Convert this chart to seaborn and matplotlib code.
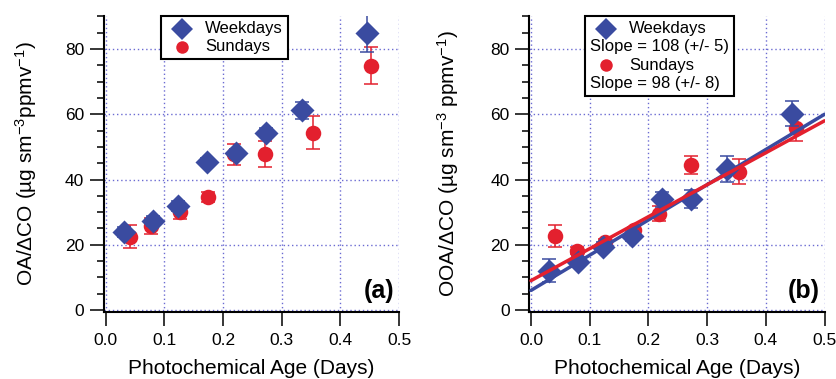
import numpy as np
import pandas as pd
import matplotlib
matplotlib.use("Agg")
import matplotlib.pyplot as plt
from matplotlib.lines import Line2D
from matplotlib.offsetbox import AnchoredOffsetbox, DrawingArea, HPacker, VPacker, TextArea
from matplotlib.ticker import MultipleLocator
import seaborn as sns

# ---- data ----
# panel (a) OA / dCO
age_wd_a = [0.031, 0.080, 0.123, 0.172, 0.223, 0.273, 0.334, 0.446]
oa_wd = [23.8, 27.2, 31.9, 45.5, 48.0, 54.4, 61.3, 84.9]
oa_wd_err = [1.5, 1.5, 1.5, 1.0, 1.5, 1.5, 2.6, 5.8]
age_su_a = [0.042, 0.078, 0.126, 0.174, 0.219, 0.272, 0.354, 0.453]
oa_su = [22.5, 25.7, 29.9, 34.7, 47.8, 47.8, 54.4, 74.9]
oa_su_err = [3.6, 2.5, 2.0, 1.5, 3.2, 3.9, 5.1, 5.6]

# panel (b) OOA / dCO
age_wd_b = [0.031, 0.080, 0.123, 0.172, 0.224, 0.273, 0.334, 0.445]
ooa_wd = [12.1, 14.6, 19.2, 22.6, 33.9, 34.1, 43.2, 60.2]
ooa_wd_err = [3.5, 1.5, 1.5, 1.5, 2.3, 2.7, 4.0, 3.9]
age_su_b = [0.041, 0.078, 0.126, 0.175, 0.218, 0.272, 0.354, 0.451]
ooa_su = [22.8, 18.2, 20.7, 24.5, 29.5, 44.5, 42.4, 55.8]
ooa_su_err = [3.4, 1.0, 1.0, 1.0, 2.3, 2.7, 3.8, 3.9]

# linear fits in (b)
fit_x = np.array([0.0, 0.5])
slope_wd, icpt_wd = 108, 6.0
slope_su, icpt_su = 98, 9.0

blue = "#3a4ba0"
red = "#e3202e"
gridc = "#6b6bd2"

sns.set_style("ticks")
plt.rcParams["font.family"] = ["Liberation Sans", "DejaVu Sans"]
plt.rcParams["mathtext.fontset"] = "custom"
plt.rcParams["mathtext.rm"] = "Liberation Sans"
plt.rcParams["mathtext.it"] = "Liberation Sans:italic"
plt.rcParams["mathtext.bf"] = "Liberation Sans:bold"
for k in ["text.color", "axes.labelcolor", "xtick.color", "ytick.color", "axes.edgecolor"]:
    plt.rcParams[k] = "black"


def legend_box(ax, rows, xfrac):
    items = []
    for marker, color, ms, label in rows:
        txt = TextArea(label, textprops=dict(fontsize=12, color="black"))
        if marker is None:
            items.append(txt)
        else:
            da = DrawingArea(23, 10, 0, 0)
            da.add_artist(Line2D([11.5], [5], marker=marker, ms=ms, color=color,
                                 ls="none", mew=0))
            items.append(HPacker(children=[da, txt], align="center", pad=0, sep=5.5))
    box = VPacker(children=items, align="left", pad=0, sep=2.2)
    anch = AnchoredOffsetbox(loc="upper center", child=box, pad=0.3, borderpad=0,
                             frameon=True, prop=dict(size=12),
                             bbox_to_anchor=(xfrac, 1.0), bbox_transform=ax.transAxes)
    anch.patch.set_edgecolor("black")
    anch.patch.set_linewidth(1.5)
    anch.patch.set_boxstyle("square", pad=0)
    anch.set_zorder(6)
    ax.add_artist(anch)


def panel(ax, xw, yw, ew, xs, ys, es, ylabel, tag):
    ax.errorbar(xs, ys, yerr=es, fmt="none", ecolor=red, elinewidth=1.1,
                capsize=5, capthick=1.1, zorder=2)
    sns.scatterplot(x=xs, y=ys, marker="o", s=125, color=red, linewidth=0,
                    ax=ax, zorder=3)
    ax.errorbar(xw, yw, yerr=ew, fmt="none", ecolor=blue, elinewidth=1.1,
                capsize=5, capthick=1.1, zorder=3.5)
    sns.scatterplot(x=xw, y=yw, marker="D", s=150, color=blue, linewidth=0,
                    ax=ax, zorder=4)
    ax.set_xlim(-0.003, 0.5)
    ax.set_ylim(-0.5, 90)
    ax.xaxis.set_major_locator(MultipleLocator(0.1))
    ax.yaxis.set_major_locator(MultipleLocator(20))
    ax.yaxis.set_minor_locator(MultipleLocator(5))
    ax.xaxis.set_major_formatter(plt.FuncFormatter(lambda v, p: f"{v:.1f}"))
    ax.grid(True, which="major", color=gridc, linestyle=(0, (1, 2)), linewidth=1.0)
    ax.set_axisbelow(True)
    for s in ["top", "right"]:
        ax.spines[s].set_visible(False)
    for s in ["left", "bottom"]:
        ax.spines[s].set_linewidth(1.5)
        ax.spines[s].set_color("black")
    ax.tick_params(which="major", length=10, width=1.1, labelsize=12.5,
                   direction="out", color="black", labelcolor="black")
    ax.tick_params(which="minor", length=5, width=1.1, direction="out", color="black")
    ax.tick_params(axis="y", pad=4)
    ax.tick_params(axis="x", pad=5.5)
    ax.set_xlabel("Photochemical Age (Days)", fontsize=15, color="black")
    ax.set_ylabel(ylabel, fontsize=15, color="black")
    ax.xaxis.set_label_coords(0.5, -0.16)
    ax.text(0.983, 0.029, tag, transform=ax.transAxes, ha="right", va="bottom",
            fontsize=18, fontweight="bold", color="black")


fig = plt.figure(figsize=(8.37, 3.79), dpi=100)
ax_a = fig.add_axes([0.124, 0.1778, 0.3528, 0.7789])
ax_b = fig.add_axes([0.6323, 0.1778, 0.3528, 0.7789])

panel(ax_a, age_wd_a, oa_wd, oa_wd_err, age_su_a, oa_su, oa_su_err,
      "OA/ΔCO (µg sm$^{-3}$ppmv$^{-1}$)", "(a)")
ax_a.yaxis.set_label_coords(-0.22, 0.5)
legend_box(ax_a, [("D", blue, 11, "Weekdays"), ("o", red, 9, "Sundays")], 0.408)

panel(ax_b, age_wd_b, ooa_wd, ooa_wd_err, age_su_b, ooa_su, ooa_su_err,
      "OOA/ΔCO (µg sm$^{-3}$ ppmv$^{-1}$)", "(b)")
ax_b.yaxis.set_label_coords(-0.23, 0.5)
sns.lineplot(x=fit_x, y=icpt_wd + slope_wd * fit_x, color=blue, linewidth=2.5,
             ax=ax_b, zorder=5)
sns.lineplot(x=fit_x, y=icpt_su + slope_su * fit_x, color=red, linewidth=2.5,
             ax=ax_b, zorder=5)
legend_box(ax_b, [("D", blue, 11, "Weekdays"), (None, None, 0, "Slope = 108 (+/- 5)"),
                  ("o", red, 9, "Sundays"), (None, None, 0, "Slope = 98 (+/- 8)")], 0.44)

fig.savefig("out.png", dpi=100)
